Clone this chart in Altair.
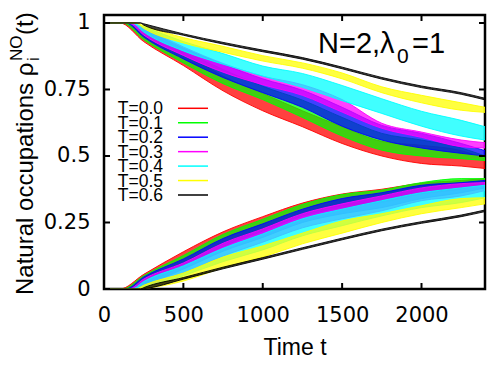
import altair as alt
import pandas as pd

# ---------------- data ----------------
TEMPS = ["T=0.0", "T=0.1", "T=0.2", "T=0.3", "T=0.4", "T=0.5", "T=0.6"]
COLORS = ["#ff0000", "#00ff00", "#0000ff", "#ff00ff", "#00ffff", "#ffff00", "#000000"]
START = [100, 115, 135, 155, 175, 200, 230]          # time where occupations leave 1 / 0
TIMES = [250, 500, 750, 1000, 1250, 1500, 1750, 2000, 2250, 2400]

# upper natural occupation: lower / upper edge of the oscillation band
RED_UP_LO = [0.93, 0.84, 0.745, 0.67, 0.61, 0.547, 0.50, 0.472, 0.462, 0.453]
RED_UP_HI = [0.962, 0.89, 0.80, 0.735, 0.67, 0.61, 0.555, 0.54, 0.52, 0.49]
GRN_UP_LO = [0.937, 0.85, 0.772, 0.712, 0.645, 0.575, 0.522, 0.50, 0.49, 0.483]
GRN_UP_HI = [0.968, 0.895, 0.825, 0.762, 0.71, 0.645, 0.585, 0.56, 0.53, 0.50]
BLU_UP_LO = [0.947, 0.865, 0.795, 0.738, 0.683, 0.612, 0.56, 0.53, 0.51, 0.50]
BLU_UP_HI = [0.975, 0.905, 0.845, 0.79, 0.747, 0.683, 0.615, 0.585, 0.547, 0.52]
MAG_UP_LO = [0.955, 0.878, 0.815, 0.768, 0.728, 0.665, 0.604, 0.57, 0.535, 0.53]
MAG_UP_HI = [0.98, 0.91, 0.848, 0.80, 0.768, 0.712, 0.623, 0.59, 0.56, 0.55]
CYA_UP_LO = [0.966, 0.895, 0.845, 0.80, 0.758, 0.708, 0.66, 0.612, 0.575, 0.56]
CYA_UP_HI = [0.985, 0.93, 0.885, 0.838, 0.81, 0.765, 0.715, 0.668, 0.634, 0.61]
YEL_UP_LO = [0.98, 0.925, 0.89, 0.857, 0.83, 0.79, 0.738, 0.70, 0.672, 0.664]
YEL_UP_HI = [0.99, 0.945, 0.912, 0.877, 0.85, 0.812, 0.76, 0.728, 0.70, 0.683]
BLK_UP_LO = [0.992, 0.954, 0.921, 0.892, 0.864, 0.828, 0.789, 0.757, 0.732, 0.711]
BLK_UP_HI = [0.997, 0.959, 0.927, 0.898, 0.870, 0.834, 0.795, 0.763, 0.738, 0.717]

# lower natural occupation
RED_LO_LO = [0.025, 0.10, 0.17, 0.228, 0.281, 0.313, 0.33, 0.358, 0.376, 0.395]
RED_LO_HI = [0.055, 0.14, 0.215, 0.272, 0.323, 0.357, 0.375, 0.398, 0.408, 0.415]
GRN_LO_LO = [0.02, 0.088, 0.16, 0.218, 0.274, 0.306, 0.325, 0.358, 0.377, 0.396]
GRN_LO_HI = [0.05, 0.126, 0.205, 0.262, 0.318, 0.355, 0.372, 0.40, 0.415, 0.415]
BLU_LO_LO = [0.015, 0.075, 0.142, 0.194, 0.25, 0.283, 0.306, 0.34, 0.362, 0.38]
BLU_LO_HI = [0.045, 0.113, 0.19, 0.245, 0.30, 0.34, 0.362, 0.39, 0.40, 0.408]
MAG_LO_LO = [0.012, 0.06, 0.124, 0.176, 0.23, 0.264, 0.294, 0.332, 0.35, 0.37]
MAG_LO_HI = [0.037, 0.098, 0.172, 0.226, 0.283, 0.32, 0.35, 0.38, 0.396, 0.40]
CYA_LO_LO = [0.008, 0.05, 0.103, 0.147, 0.20, 0.238, 0.275, 0.306, 0.325, 0.343]
CYA_LO_HI = [0.028, 0.087, 0.153, 0.207, 0.264, 0.30, 0.332, 0.362, 0.38, 0.39]
YEL_LO_LO = [0.002, 0.03, 0.08, 0.12, 0.17, 0.21, 0.25, 0.283, 0.306, 0.32]
YEL_LO_HI = [0.014, 0.06, 0.12, 0.162, 0.21, 0.256, 0.283, 0.313, 0.34, 0.343]
BLK_LO_LO = [0.001, 0.037, 0.076, 0.112, 0.149, 0.185, 0.219, 0.247, 0.272, 0.291]
BLK_LO_HI = [0.005, 0.043, 0.082, 0.118, 0.155, 0.191, 0.225, 0.253, 0.278, 0.297]

UP_LO = [RED_UP_LO, GRN_UP_LO, BLU_UP_LO, MAG_UP_LO, CYA_UP_LO, YEL_UP_LO, BLK_UP_LO]
UP_HI = [RED_UP_HI, GRN_UP_HI, BLU_UP_HI, MAG_UP_HI, CYA_UP_HI, YEL_UP_HI, BLK_UP_HI]
LO_LO = [RED_LO_LO, GRN_LO_LO, BLU_LO_LO, MAG_LO_LO, CYA_LO_LO, YEL_LO_LO, BLK_LO_LO]
LO_HI = [RED_LO_HI, GRN_LO_HI, BLU_LO_HI, MAG_LO_HI, CYA_LO_HI, YEL_LO_HI, BLK_LO_HI]

X_TICKS = [0, 500, 1000, 1500, 2000]
Y_TICKS = [0, 0.25, 0.5, 0.75, 1]

# ---------------- chart ----------------
W, H = 381, 274
XDOM = [0, 2400]
YDOM = [0, 1.03]
xs = alt.Scale(domain=XDOM, nice=False, zero=False)
ys = alt.Scale(domain=YDOM, nice=False, zero=False)

layers = []
for i, name in enumerate(TEMPS):
    for branch, lo, hi, v0 in (("up", UP_LO[i], UP_HI[i], 1.0), ("low", LO_LO[i], LO_HI[i], 0.0)):
        rows = [{"t": 0, "lo": v0, "hi": v0}, {"t": START[i], "lo": v0, "hi": v0}]
        for t, a, b in zip(TIMES, lo, hi):
            rows.append({"t": t, "lo": a, "hi": b})
        df = pd.DataFrame(rows)
        layers.append(
            alt.Chart(df).mark_area(color=COLORS[i], fillOpacity=0.75, stroke=COLORS[i],
                                    strokeWidth=0.9, orient="vertical", clip=True,
                                    interpolate="monotone")
            .encode(
                x=alt.X("t:Q", scale=xs,
                        axis=alt.Axis(values=X_TICKS, title="Time t", labelPadding=15,
                                      titlePadding=11, labelFlush=False,
                                      labelExpr="datum.value + ''")),
                y=alt.Y("lo:Q", scale=ys,
                        axis=alt.Axis(values=Y_TICKS, title=None, labelPadding=14,
                                      labelExpr="datum.value + ''")),
                y2="hi:Q",
            )
        )

# inward tick marks on all four sides
xt = pd.DataFrame({"v": X_TICKS})
yt = pd.DataFrame({"v": Y_TICKS})
tick_style = dict(color="black", strokeWidth=2)
layers += [
    alt.Chart(xt).mark_rule(**tick_style).encode(x=alt.X("v:Q", scale=xs), y=alt.value(H), y2=alt.value(H - 6)),
    alt.Chart(xt).mark_rule(**tick_style).encode(x=alt.X("v:Q", scale=xs), y=alt.value(0), y2=alt.value(6)),
    alt.Chart(yt).mark_rule(**tick_style).encode(y=alt.Y("v:Q", scale=ys), x=alt.value(0), x2=alt.value(6)),
    alt.Chart(yt).mark_rule(**tick_style).encode(y=alt.Y("v:Q", scale=ys), x=alt.value(W), x2=alt.value(W - 6)),
]

# legend (labels left of line samples, as in gnuplot)
per_px = (YDOM[1] - YDOM[0]) / H
leg = pd.DataFrame({
    "label": TEMPS,
    "ly": [YDOM[1] - (93.3 + 14.45 * i) * per_px for i in range(len(TEMPS))],
})
cscale = alt.Scale(domain=TEMPS, range=COLORS)
layers += [
    alt.Chart(leg).mark_text(align="right", baseline="middle", font="Liberation Sans",
                             fontSize=17.5, color="black", dy=1)
    .encode(text="label:N", x=alt.value(59), y=alt.Y("ly:Q", scale=ys)),
    alt.Chart(leg).mark_rule(strokeWidth=1.5)
    .encode(x=alt.value(74), x2=alt.value(104), y=alt.Y("ly:Q", scale=ys),
            color=alt.Color("label:N", scale=cscale, legend=None)),
]

# annotation N=2, lambda_0=1
ann = pd.DataFrame({"a": ["N=2,λ"], "b": ["0"], "c": ["=1"]})
txt = dict(font="Liberation Sans", color="black", align="left", baseline="alphabetic")
layers += [
    alt.Chart(ann).mark_text(fontSize=29, **txt).encode(text="a:N", x=alt.value(214), y=alt.value(38)),
    alt.Chart(ann).mark_text(fontSize=21, **txt).encode(text="b:N", x=alt.value(293), y=alt.value(48)),
    alt.Chart(ann).mark_text(fontSize=29, **txt).encode(text="c:N", x=alt.value(308), y=alt.value(38)),
]

# y axis title with sub/superscripts, rotated
yt_df = pd.DataFrame({"m": ["Natural occupations ρ"], "s": ["i"], "p": ["NO"], "e": ["(t)"]})
rot = dict(font="Liberation Sans", color="black", align="left", baseline="alphabetic", angle=270)
layers += [
    alt.Chart(yt_df).mark_text(fontSize=24, **rot).encode(text="m:N", x=alt.value(-71), y=alt.value(280)),
    alt.Chart(yt_df).mark_text(fontSize=17, **rot).encode(text="s:N", x=alt.value(-65), y=alt.value(46)),
    alt.Chart(yt_df).mark_text(fontSize=17, **rot).encode(text="p:N", x=alt.value(-82), y=alt.value(46)),
    alt.Chart(yt_df).mark_text(fontSize=24, **rot).encode(text="e:N", x=alt.value(-71), y=alt.value(20)),
]

chart = (
    alt.layer(*layers)
    .properties(width=W, height=H, autosize=alt.AutoSizeParams(type="none"),
                padding={"left": 96, "top": 7, "right": 7, "bottom": 69})
    .configure_view(stroke="black", strokeWidth=2.5)
    .configure_axis(grid=False, domain=False, ticks=False, labelFont="DejaVu Sans",
                    labelFontSize=21, labelColor="black", titleFont="Liberation Sans",
                    titleFontSize=23, titleColor="black", titleFontWeight="normal")
)

chart.save("out.html", embed_options={"renderer": "svg", "actions": False})
